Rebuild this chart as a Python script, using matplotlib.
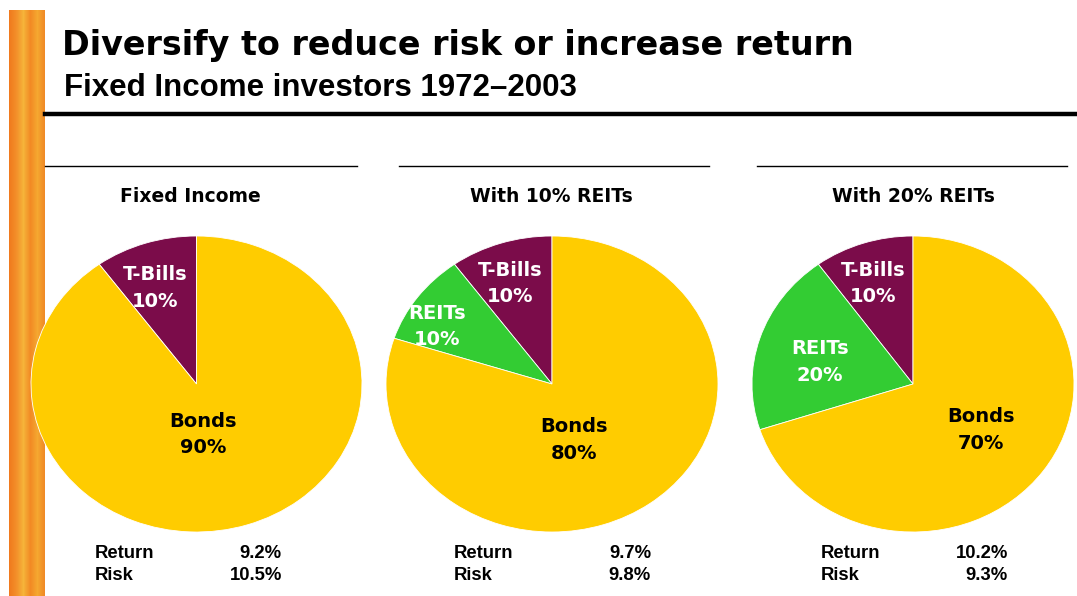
import numpy as np
import matplotlib.pyplot as plt
from matplotlib.colors import LinearSegmentedColormap
from matplotlib.lines import Line2D
from matplotlib.font_manager import FontProperties, fontManager

W, H = 1077, 596

# data
pie_titles = ["Fixed Income", "With 10% REITs", "With 20% REITs"]
slice_names = ["T-Bills", "REITs", "Bonds"]
tbills = [10, 10, 10]
reits = [0, 10, 20]
bonds = [90, 80, 70]
returns = ["9.2%", "9.7%", "10.2%"]
risks = ["10.5%", "9.8%", "9.3%"]

colors = {"T-Bills": "#7B0C4A", "REITs": "#33CC33", "Bonds": "#FFCC00"}
text_colors = {"T-Bills": "white", "REITs": "white", "Bonds": "black"}

# pie boxes in pixels (left, top, right, bottom)
pie_boxes = [(31, 236, 362, 532), (386, 236, 718, 532), (752, 236, 1074, 532)]
# label spots inside each ellipse (unit radius coords)
label_spots = [
    {"T-Bills": (-0.25, 0.65), "Bonds": (0.04, -0.34)},
    {"T-Bills": (-0.25, 0.68), "REITs": (-0.69, 0.39), "Bonds": (0.13, -0.38)},
    {"T-Bills": (-0.25, 0.68), "REITs": (-0.58, 0.15), "Bonds": (0.42, -0.31)},
]
title_x = [190, 551, 913]
rule_x = [(45, 357), (399, 709), (757, 1067)]
ret_label_x = [95, 454, 821]
ret_value_x = [282, 651, 1008]


def fx(px):
    return px / W


def fy(py):
    return 1 - py / H


# regular-width Liberation Sans Bold (Arial look-alike)
arial_file = None
for f in fontManager.ttflist:
    if (f.name == "Liberation Sans" and f.weight in (700, "bold")
            and "Narrow" not in f.fname and "Italic" not in f.fname):
        arial_file = f.fname
        break


def arial(size):
    if arial_file:
        return FontProperties(fname=arial_file, size=size)
    return FontProperties(family="DejaVu Sans", weight="bold", size=size)


fig = plt.figure(figsize=(W / 100, H / 100), dpi=100)

# orange strip on the left
strip = fig.add_axes([fx(9), 0, fx(45) - fx(9), fy(10)])
cmap = LinearSegmentedColormap.from_list(
    "flame", ["#F07A1E", "#F3902A", "#F6B43A", "#F28A24", "#F5A830", "#F08A26"])
strip.imshow(np.linspace(0, 1, 36).reshape(1, -1), cmap=cmap, aspect="auto")
strip.set_axis_off()

# header
fig.text(fx(62), fy(46), "Diversify to reduce risk or increase return",
         fontsize=24, fontweight="bold", family="DejaVu Sans", va="center")
fig.text(fx(64), fy(88), "Fixed Income investors 1972\u20132003",
         fontproperties=arial(22.5), va="center")
fig.add_artist(Line2D([fx(45), 1], [fy(114), fy(114)], color="black", lw=3.2))

for i in range(3):
    l, t, r, b = pie_boxes[i]
    ax = fig.add_axes([fx(l), fy(b), fx(r) - fx(l), (b - t) / H])
    vals = [tbills[i], reits[i], bonds[i]]
    names = [n for n, v in zip(slice_names, vals) if v > 0]
    vals = [v for v in vals if v > 0]
    ax.pie(vals, colors=[colors[n] for n in names], startangle=90,
           counterclock=True, radius=1,
           wedgeprops=dict(edgecolor="white", linewidth=0.6))
    ax.set_aspect("auto")
    ax.set_xlim(-1, 1)
    ax.set_ylim(-1, 1)
    for n, v in zip(names, vals):
        x, y = label_spots[i][n]
        ax.text(x, y, f"{n}\n{v}%", ha="center", va="center",
                color=text_colors[n], fontsize=14, fontweight="bold",
                family="DejaVu Sans", linespacing=1.5)

    fig.add_artist(Line2D([fx(rule_x[i][0]), fx(rule_x[i][1])], [fy(166), fy(166)],
                          color="black", lw=1))
    fig.text(fx(title_x[i]), fy(197), pie_titles[i], ha="center", va="center",
             fontsize=13.5, fontweight="bold", family="DejaVu Sans")
    fig.text(fx(ret_label_x[i]), fy(553), "Return", va="center",
             fontproperties=arial(13.3))
    fig.text(fx(ret_label_x[i]), fy(575), "Risk", va="center",
             fontproperties=arial(13.3))
    fig.text(fx(ret_value_x[i]), fy(553), returns[i], va="center", ha="right",
             fontproperties=arial(13.3))
    fig.text(fx(ret_value_x[i]), fy(575), risks[i], va="center", ha="right",
             fontproperties=arial(13.3))

fig.savefig("out.png", dpi=100)
